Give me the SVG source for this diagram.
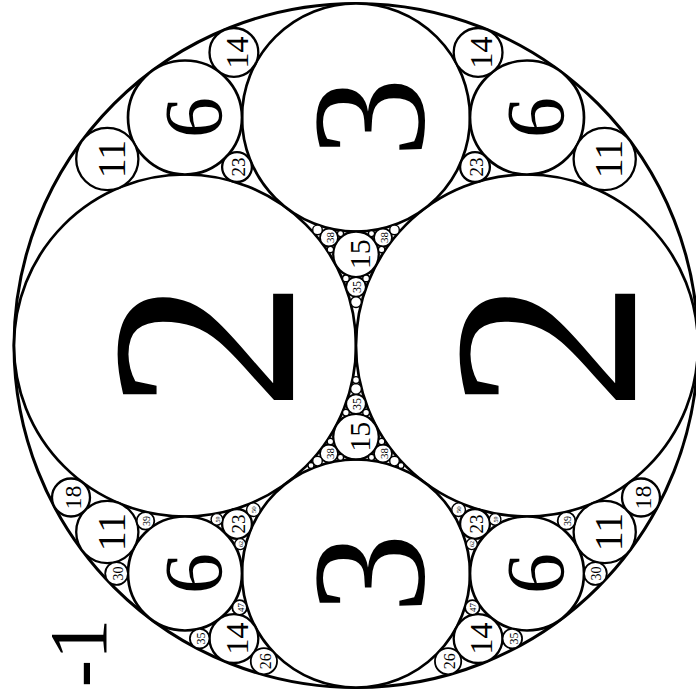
<svg xmlns="http://www.w3.org/2000/svg" width="696" height="699" viewBox="0 0 696 699">
<style>
circle{fill:#fff;stroke:#000}
.o{stroke-width:3}
.l{stroke-width:2.7}
.m{stroke-width:2.3}
.s{stroke-width:1.8}
.t{stroke-width:1.4}
text{font-family:"Liberation Serif","Times New Roman",serif;text-anchor:middle;dominant-baseline:central;fill:#000}
</style>
<rect width="696" height="699" fill="#fff"/>
<g id="outer"><circle class="o" cx="356" cy="345.5" r="342"/></g>
<g id="c2L"><circle class="l" cx="185" cy="345.5" r="171"/><text transform="translate(185,345.5) rotate(-90)" font-size="265" dy="0.07em">2</text></g>
<g id="c2R"><circle class="l" cx="527" cy="345.5" r="171"/><text transform="translate(527,345.5) rotate(-90)" font-size="265" dy="0.07em">2</text></g>
<g id="c3T"><circle class="l" cx="356" cy="117.5" r="114"/><text transform="translate(356,117.5) rotate(-90)" font-size="160" dy="0.08em">3</text></g>
<g id="c3B"><circle class="l" cx="356" cy="573.5" r="114"/><text transform="translate(356,573.5) rotate(-90)" font-size="160" dy="0.08em">3</text></g>

<g id="topleft">
<g id="tl6"><circle class="l" cx="185" cy="117.5" r="57"/><text transform="translate(185,117.5) rotate(-90)" font-size="82" dy="0.1em">6</text></g>
<g id="tl11"><circle class="m" cx="107.3" cy="159" r="31.1"/><text transform="translate(107.3,159) rotate(-90)" font-size="40" dy="0.1em">11</text></g>
<g id="tl14"><circle class="m" cx="233.9" cy="52.4" r="24.4"/><text transform="translate(233.9,52.4) rotate(-90)" font-size="32" dy="0.1em">14</text></g>
<g id="tl23"><circle class="m" cx="237" cy="167.1" r="14.9"/><text transform="translate(237,167.1) rotate(-90)" font-size="19" dy="0.1em">23</text></g>
</g>
<g id="topright">
<g id="tr6"><circle class="l" cx="527" cy="117.5" r="57"/><text transform="translate(527,117.5) rotate(-90)" font-size="82" dy="0.1em">6</text></g>
<g id="tr11"><circle class="m" cx="604.7" cy="159" r="31.1"/><text transform="translate(604.7,159) rotate(-90)" font-size="40" dy="0.1em">11</text></g>
<g id="tr14"><circle class="m" cx="478.1" cy="52.4" r="24.4"/><text transform="translate(478.1,52.4) rotate(-90)" font-size="32" dy="0.1em">14</text></g>
<g id="tr23"><circle class="m" cx="475" cy="167.1" r="14.9"/><text transform="translate(475,167.1) rotate(-90)" font-size="19" dy="0.1em">23</text></g>
</g>

<g id="topcenter">
<g id="tc15"><circle class="m" cx="356" cy="254.3" r="22.8"/><text transform="translate(356,254.3) rotate(-90)" font-size="30" dy="0.1em">15</text></g>
<g id="tc35"><circle class="s" cx="356" cy="286.9" r="9.8"/><text transform="translate(356,286.9) rotate(-90)" font-size="12" dy="0.1em">35</text></g>
<g id="tc38L"><circle class="s" cx="329" cy="237.5" r="9"/><text transform="translate(329,237.5) rotate(-90)" font-size="11" dy="0.1em">38</text></g>
<g id="tc38R"><circle class="s" cx="383" cy="237.5" r="9"/><text transform="translate(383,237.5) rotate(-90)" font-size="11" dy="0.1em">38</text></g>
<circle class="t" cx="356" cy="302.1" r="5.4"/>
<circle class="t" cx="345.9" cy="278.4" r="3.35"/>
<circle class="t" cx="366.1" cy="278.4" r="3.35"/>
<circle class="t" cx="317.5" cy="229.9" r="4.8"/>
<circle class="t" cx="394.5" cy="229.9" r="4.8"/>
<circle class="t" cx="330.4" cy="249.6" r="3.2"/>
<circle class="t" cx="381.6" cy="249.6" r="3.2"/>
<circle class="t" cx="340.5" cy="233.6" r="3.1"/>
<circle class="t" cx="371.5" cy="233.6" r="3.1"/>
</g>

<g id="bottomcenter">
<g id="bc15"><circle class="m" cx="356" cy="436.7" r="22.8"/><text transform="translate(356,436.7) rotate(-90)" font-size="30" dy="0.1em">15</text></g>
<g id="bc35"><circle class="s" cx="356" cy="404.1" r="9.8"/><text transform="translate(356,404.1) rotate(-90)" font-size="12" dy="0.1em">35</text></g>
<g id="bc38L"><circle class="s" cx="329" cy="453.5" r="9"/><text transform="translate(329,453.5) rotate(-90)" font-size="11" dy="0.1em">38</text></g>
<g id="bc38R"><circle class="s" cx="383" cy="453.5" r="9"/><text transform="translate(383,453.5) rotate(-90)" font-size="11" dy="0.1em">38</text></g>
<circle class="t" cx="356" cy="388.9" r="5.4"/>
<circle class="t" cx="356" cy="380.1" r="3.45"/>
<circle class="t" cx="345.9" cy="412.6" r="3.35"/>
<circle class="t" cx="366.1" cy="412.6" r="3.35"/>
<circle class="t" cx="317.5" cy="461.1" r="4.8"/>
<circle class="t" cx="394.5" cy="461.1" r="4.8"/>
<circle class="t" cx="330.4" cy="441.4" r="3.2"/>
<circle class="t" cx="381.6" cy="441.4" r="3.2"/>
<circle class="t" cx="340.5" cy="457.4" r="3.1"/>
<circle class="t" cx="371.5" cy="457.4" r="3.1"/>
<circle class="t" cx="311" cy="465.5" r="3"/>
<circle class="t" cx="401" cy="465.5" r="3"/>
</g>

<g id="bottomleft">
<g id="bl6"><circle class="l" cx="185" cy="573.5" r="57"/><text transform="translate(185,573.5) rotate(-90)" font-size="82" dy="0.1em">6</text></g>
<g id="bl11"><circle class="m" cx="107.3" cy="532" r="31.1"/><text transform="translate(107.3,532) rotate(-90)" font-size="40" dy="0.1em">11</text></g>
<g id="bl14"><circle class="m" cx="233.9" cy="638.6" r="24.4"/><text transform="translate(233.9,638.6) rotate(-90)" font-size="32" dy="0.1em">14</text></g>
<g id="bl23"><circle class="m" cx="237" cy="523.9" r="14.9"/><text transform="translate(237,523.9) rotate(-90)" font-size="19" dy="0.1em">23</text></g>
<g id="bl18"><circle class="m" cx="71" cy="497.5" r="19"/><text transform="translate(71,497.5) rotate(-90)" font-size="24" dy="0.1em">18</text></g>
<g id="bl30"><circle class="s" cx="116.6" cy="573.5" r="11.4"/><text transform="translate(116.6,573.5) rotate(-90)" font-size="14" dy="0.1em">30</text></g>
<g id="bl39"><circle class="s" cx="145.5" cy="520.9" r="8.8"/><text transform="translate(145.5,520.9) rotate(-90)" font-size="10" dy="0.1em">39</text></g>
<g id="bl26"><circle class="s" cx="263.9" cy="661.2" r="13.15"/><text transform="translate(263.9,661.2) rotate(-90)" font-size="16" dy="0.1em">26</text></g>
<g id="bl35"><circle class="s" cx="199.7" cy="638.6" r="9.8"/><text transform="translate(199.7,638.6) rotate(-90)" font-size="12" dy="0.1em">35</text></g>
<g id="bl47"><circle class="s" cx="239.6" cy="607.5" r="7.3"/><text transform="translate(239.6,607.5) rotate(-90)" font-size="9" dy="0.1em">47</text></g>
<g id="bl50"><circle class="t" cx="253.4" cy="509.7" r="6.8"/><text transform="translate(253.4,509.7) rotate(-90)" font-size="7" dy="0.1em">50</text></g>
<g id="bl59"><circle class="t" cx="216.9" cy="519.4" r="5.8"/><text transform="translate(216.9,519.4) rotate(-90)" font-size="6" dy="0.1em">59</text></g>
<g id="bl62"><circle class="t" cx="240.2" cy="544.1" r="5.5"/><text transform="translate(240.2,544.1) rotate(-90)" font-size="6" dy="0.1em">62</text></g>
</g>

<g id="bottomright">
<g id="br6"><circle class="l" cx="527" cy="573.5" r="57"/><text transform="translate(527,573.5) rotate(-90)" font-size="82" dy="0.1em">6</text></g>
<g id="br11"><circle class="m" cx="604.7" cy="532" r="31.1"/><text transform="translate(604.7,532) rotate(-90)" font-size="40" dy="0.1em">11</text></g>
<g id="br14"><circle class="m" cx="478.1" cy="638.6" r="24.4"/><text transform="translate(478.1,638.6) rotate(-90)" font-size="32" dy="0.1em">14</text></g>
<g id="br23"><circle class="m" cx="475" cy="523.9" r="14.9"/><text transform="translate(475,523.9) rotate(-90)" font-size="19" dy="0.1em">23</text></g>
<g id="br18"><circle class="m" cx="641" cy="497.5" r="19"/><text transform="translate(641,497.5) rotate(-90)" font-size="24" dy="0.1em">18</text></g>
<g id="br30"><circle class="s" cx="595.4" cy="573.5" r="11.4"/><text transform="translate(595.4,573.5) rotate(-90)" font-size="14" dy="0.1em">30</text></g>
<g id="br39"><circle class="s" cx="566.5" cy="520.9" r="8.8"/><text transform="translate(566.5,520.9) rotate(-90)" font-size="10" dy="0.1em">39</text></g>
<g id="br26"><circle class="s" cx="448.1" cy="661.2" r="13.15"/><text transform="translate(448.1,661.2) rotate(-90)" font-size="16" dy="0.1em">26</text></g>
<g id="br35"><circle class="s" cx="512.3" cy="638.6" r="9.8"/><text transform="translate(512.3,638.6) rotate(-90)" font-size="12" dy="0.1em">35</text></g>
<g id="br47"><circle class="s" cx="472.4" cy="607.5" r="7.3"/><text transform="translate(472.4,607.5) rotate(-90)" font-size="9" dy="0.1em">47</text></g>
<g id="br50"><circle class="t" cx="458.6" cy="509.7" r="6.8"/><text transform="translate(458.6,509.7) rotate(-90)" font-size="7" dy="0.1em">50</text></g>
<g id="br59"><circle class="t" cx="495.1" cy="519.4" r="5.8"/><text transform="translate(495.1,519.4) rotate(-90)" font-size="6" dy="0.1em">59</text></g>
<g id="br62"><circle class="t" cx="471.8" cy="544.1" r="5.5"/><text transform="translate(471.8,544.1) rotate(-90)" font-size="6" dy="0.1em">62</text></g>
</g>

<g id="outer-label"><text transform="translate(70,653) rotate(-90)" font-size="82" dy="0.1em">-1</text></g>
</svg>
